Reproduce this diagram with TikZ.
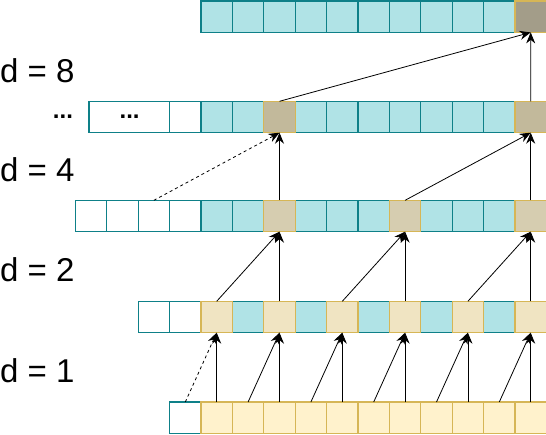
\documentclass[tikz,border=0pt]{standalone}
\usepackage{fontspec}
\setmainfont{Liberation Sans}
\usetikzlibrary{arrows.meta}

\definecolor{tealfill}{HTML}{B0E3E6}
\definecolor{tealline}{HTML}{0E8088}
\definecolor{goldline}{HTML}{D6B656}
\definecolor{lvla}{HTML}{FFF2CC}
\definecolor{lvlb}{HTML}{F0E4C2}
\definecolor{lvlc}{HTML}{D6CDB0}
\definecolor{lvld}{HTML}{C2B99B}
\definecolor{lvle}{HTML}{A39D89}

\begin{document}
\begin{tikzpicture}
    [ x = 1pt, y = -1pt
    , cell/.style =
      { draw=tealline, line width=1.3pt, minimum width=31.4pt
      , minimum height=31.4pt, inner sep=0pt, outer sep=0pt }
    , empty/.style =
      { cell, fill=white }
    , filled/.style =
      { cell, fill=tealfill }
    , picked/.style =
      { cell, draw=goldline }
    , edge/.style =
      { -{Stealth[length=11pt,width=9pt]}, line width=.8pt }
    , missing/.style =
      { dashed }
    , level/.style =
      { font=\fontsize{33}{40}\selectfont, anchor=west, inner sep=0pt }
    , dots/.style =
      { font=\fontsize{24}{28}\selectfont\bfseries }
    ]
    \useasboundingbox (0,0) rectangle (546,434);

    % output row
    \foreach \j in {4,...,13}
      \node [filled] (out-\j) at ({91.1+31.4*\j},16.7) {};
    \node [picked,fill=lvle] (out-14) at (530.7,16.7) {};

    % d = 8
    \node [empty,minimum width=81.4pt,dots] (h3-w) at (129.6,117) {...};
    \node [dots] (more) at (63,117) {...};
    \node [empty] (h3-3) at (185.3,117) {};
    \foreach \j in {4,5,7,8,9,10,11,12,13}
      \node [filled] (h3-\j) at ({91.1+31.4*\j},117) {};
    \foreach \j in {6,14}
      \node [picked,fill=lvld] (h3-\j) at ({91.1+31.4*\j},117) {};

    % d = 4
    \foreach \j in {0,...,3}
      \node [empty] (h2-\j) at ({91.1+31.4*\j},216) {};
    \foreach \j in {4,5,7,8,9,11,12,13}
      \node [filled] (h2-\j) at ({91.1+31.4*\j},216) {};
    \foreach \j in {6,10,14}
      \node [picked,fill=lvlc] (h2-\j) at ({91.1+31.4*\j},216) {};

    % d = 2
    \foreach \j in {2,3}
      \node [empty] (h1-\j) at ({91.1+31.4*\j},317) {};
    \foreach \j in {5,7,...,13}
      \node [filled] (h1-\j) at ({91.1+31.4*\j},317) {};
    \foreach \j in {4,6,...,14}
      \node [picked,fill=lvlb] (h1-\j) at ({91.1+31.4*\j},317) {};

    % d = 1
    \node [empty] (in-3) at (185.3,417.7) {};
    \foreach \j in {4,...,14}
      \node [picked,fill=lvla] (in-\j) at ({91.1+31.4*\j},417.7) {};

    \node [level] (d8) at (0,71) {d = 8};
    \node [level] (d4) at (0,170) {d = 4};
    \node [level] (d2) at (0,270) {d = 2};
    \node [level] (d1) at (0,371) {d = 1};

    \foreach \j in {4,6,...,14}
      \draw [edge] (in-\j.north) -- (h1-\j.south);
    \foreach \i/\j in {5/6,7/8,9/10,11/12,13/14}
      \draw [edge] (in-\i.north) -- (h1-\j.south);
    \draw [edge,missing] (in-3.north) -- (h1-4.south);

    \foreach \j in {6,10,14}
      \draw [edge] (h1-\j.north) -- (h2-\j.south);
    \foreach \i/\j in {4/6,8/10,12/14}
      \draw [edge] (h1-\i.north) -- (h2-\j.south);

    \draw [edge] (h2-6.north) -- (h3-6.south);
    \draw [edge] (h2-14.north) -- (h3-14.south);
    \draw [edge] (h2-10.north) -- (h3-14.south);
    \draw [edge,missing] (h2-2.north) -- (h3-6.south);

    \draw [edge] (h3-14.north) -- (out-14.south);
    \draw [edge] (h3-6.north) -- (out-14.south);
\end{tikzpicture}
\end{document}
